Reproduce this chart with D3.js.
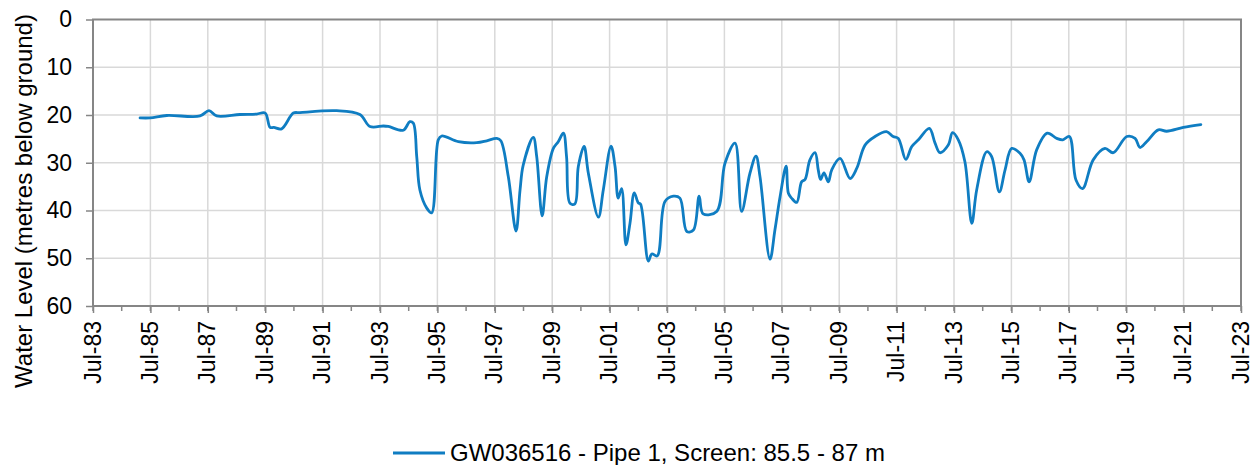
<!DOCTYPE html>
<html>
<head>
<meta charset="utf-8">
<script src="https://cdn.jsdelivr.net/npm/d3@7"></script>
<style>
  html, body { margin: 0; padding: 0; background: #fff; }
  svg { display: block; font-family: "Liberation Sans", Arial, sans-serif; }
</style>
</head>
<body>
<svg id="chart" width="1253" height="465"></svg>
<script>
// ---- Data (decimal year, metres below ground) ----
const seriesName = "GW036516 - Pipe 1, Screen: 85.5 - 87 m";
const years = [
  1985.14, 1985.49, 1986.07, 1987.23, 1987.54, 1987.81, 1988.62, 1989.2, 1989.5, 1989.67,
  1989.8, 1990.07, 1990.48, 1990.71, 1991.99, 1992.8, 1993.15, 1993.62, 1993.79, 1994.31,
  1994.54, 1994.66, 1994.78, 1994.89, 1995.13, 1995.3, 1995.53, 1995.65, 1996.23, 1996.87,
  1997.22, 1997.57, 1997.71, 1997.97, 1998.24, 1998.38, 1998.49, 1998.84, 1998.96, 1999.15,
  1999.31, 1999.54, 1999.71, 1999.89, 2000.0, 2000.12, 2000.29, 2000.41, 2000.61, 2000.76,
  2001.11, 2001.28, 2001.55, 2001.69, 2001.8, 2001.92, 2002.07, 2002.21, 2002.36, 2002.5,
  2002.58, 2002.85, 2002.97, 2003.16, 2003.43, 2003.72, 2003.95, 2004.19, 2004.42, 2004.62,
  2004.76, 2005.23, 2005.52, 2005.87, 2006.1, 2006.39, 2006.6, 2006.74, 2007.09, 2007.26,
  2007.44, 2007.65, 2007.73, 2007.84, 2008.02, 2008.19, 2008.31, 2008.48, 2008.66, 2008.77,
  2008.85, 2008.97, 2009.12, 2009.24, 2009.53, 2009.88, 2010.11, 2010.4, 2010.75, 2011.15,
  2011.38, 2011.56, 2011.82, 2012.03, 2012.26, 2012.64, 2012.84, 2013.01, 2013.3, 2013.45,
  2013.65, 2013.88, 2014.12, 2014.29, 2014.64, 2014.81, 2015.08, 2015.28, 2015.51, 2015.8,
  2015.94, 2016.12, 2016.38, 2016.75, 2017.08, 2017.29, 2017.52, 2017.75, 2017.98, 2018.35,
  2018.76, 2019.05, 2019.52, 2019.81, 2019.98, 2020.21, 2020.62, 2020.91, 2021.49, 2022.1
];
const levels = [
  20.6, 20.6, 20.1, 20.2, 19.1, 20.2, 19.9, 19.8, 19.6, 22.6,
  22.6, 22.9, 19.6, 19.5, 19.1, 19.9, 22.4, 22.3, 22.4, 23.2,
  21.4, 21.7, 28.7, 35.7, 39.5, 40.5, 25.2, 24.4, 25.6, 25.8,
  25.4, 24.9, 25.4, 32.9, 44.3, 35.7, 30.5, 24.7, 28.7, 41.1,
  32.9, 27.0, 25.6, 23.8, 28.7, 38.5, 38.6, 30.8, 26.6, 32.2,
  41.4, 35.7, 26.5, 30.8, 37.4, 35.4, 47.2, 42.7, 36.3, 38.4,
  38.7, 50.6, 49.1, 49.5, 38.1, 37.0, 37.4, 44.4, 44.1, 37.0,
  40.7, 40.2, 30.1, 25.9, 40.2, 32.2, 28.6, 32.9, 50.2, 44.1,
  37.1, 30.7, 36.4, 37.4, 38.3, 34.0, 33.5, 29.4, 27.9, 31.5,
  33.5, 32.1, 34.0, 31.5, 29.1, 33.3, 31.2, 26.3, 24.5, 23.5,
  24.5, 24.9, 29.3, 26.6, 25.2, 22.8, 25.9, 27.9, 26.3, 23.7,
  25.2, 29.8, 42.7, 35.7, 27.7, 28.7, 36.1, 31.5, 27.0, 28.0,
  29.4, 34.0, 27.3, 23.8, 24.9, 25.2, 24.5, 33.6, 35.4, 29.4,
  27.0, 27.9, 24.5, 24.9, 26.8, 25.6, 23.1, 23.4, 22.6, 22.0
];
const yTicks = [0, 10, 20, 30, 40, 50, 60];
const xMajorTicks = d3.range(1983.5, 2023.6, 2);   // Jul-83 ... Jul-23
const xMinorTicks = d3.range(1983.5, 2023.6, 1);
const yTitle = "Water Level (metres below ground)";

const data = years.map((yr, i) => ({ x: yr, v: levels[i] }));

// ---- Layout ----
const pLeft = 93, pRight = 1241, pTop = 19.5, pBottom = 306;
const svg = d3.select("#chart");
const xs = d3.scaleLinear().domain([1983.5, 2023.5]).range([pLeft, pRight]);
const ys = d3.scaleLinear().domain([0, 60]).range([pTop, pBottom]);

const gridColor = "#d9d9d9", axisColor = "#868686", lineColor = "#0f7dc2";
const fontSize = 23;

// grid
svg.append("g").selectAll("line").data(yTicks.slice(1, -1)).join("line")
  .attr("x1", pLeft).attr("x2", pRight).attr("y1", d => ys(d)).attr("y2", d => ys(d))
  .attr("stroke", gridColor).attr("stroke-width", 1.5);
svg.append("g").selectAll("line").data(xMajorTicks.slice(1, -1)).join("line")
  .attr("x1", d => xs(d)).attr("x2", d => xs(d)).attr("y1", pTop).attr("y2", pBottom)
  .attr("stroke", gridColor).attr("stroke-width", 1.5);

// y axis
const yAxis = d3.axisLeft(ys).tickValues(yTicks).tickSize(7).tickPadding(14);
const gy = svg.append("g").attr("transform", `translate(${pLeft},0)`).call(yAxis);
gy.select(".domain").remove();
gy.selectAll(".tick line").attr("stroke", axisColor).attr("stroke-width", 1.5);
gy.selectAll(".tick text").attr("font-size", fontSize).attr("fill", "#000")
  .attr("font-family", "Liberation Sans, Arial, sans-serif");

// x axis minor ticks
svg.append("g").selectAll("line").data(xMinorTicks).join("line")
  .attr("x1", d => xs(d)).attr("x2", d => xs(d)).attr("y1", pBottom).attr("y2", pBottom + 5)
  .attr("stroke", axisColor).attr("stroke-width", 1.5);

// x axis major
const xAxis = d3.axisBottom(xs).tickValues(xMajorTicks).tickSize(7)
  .tickFormat(d => "Jul-" + String(Math.floor(d) % 100).padStart(2, "0"));
const gx = svg.append("g").attr("transform", `translate(0,${pBottom})`).call(xAxis);
gx.select(".domain").remove();
gx.selectAll(".tick line").attr("stroke", axisColor).attr("stroke-width", 1.5);
gx.selectAll(".tick text")
  .attr("font-size", fontSize).attr("fill", "#000")
  .attr("font-family", "Liberation Sans, Arial, sans-serif")
  .attr("text-anchor", "end")
  .attr("transform", "rotate(-90)")
  .attr("x", -15).attr("y", -1).attr("dy", "0.35em");

// frame
svg.append("rect").attr("x", pLeft).attr("y", pTop)
  .attr("width", pRight - pLeft).attr("height", pBottom - pTop)
  .attr("fill", "none").attr("stroke", axisColor).attr("stroke-width", 2);

// line
const line = d3.line().x(d => xs(d.x)).y(d => ys(d.v)).curve(d3.curveCatmullRom.alpha(0.5));
svg.append("path").datum(data).attr("d", line)
  .attr("fill", "none").attr("stroke", lineColor).attr("stroke-width", 2.8)
  .attr("stroke-linejoin", "round").attr("stroke-linecap", "round");

// y title
svg.append("text")
  .attr("transform", `translate(32,${(15 + 387) / 2}) rotate(-90)`)
  .attr("text-anchor", "middle")
  .attr("font-size", 24).attr("fill", "#000")
  .text(yTitle);

// legend
const lg = svg.append("g");
lg.append("line").attr("x1", 393).attr("x2", 445).attr("y1", 453).attr("y2", 453)
  .attr("stroke", lineColor).attr("stroke-width", 2.8);
lg.append("text").attr("x", 450).attr("y", 453).attr("dy", "0.35em")
  .attr("font-size", 24).attr("fill", "#000").text(seriesName);
</script>
</body>
</html>
